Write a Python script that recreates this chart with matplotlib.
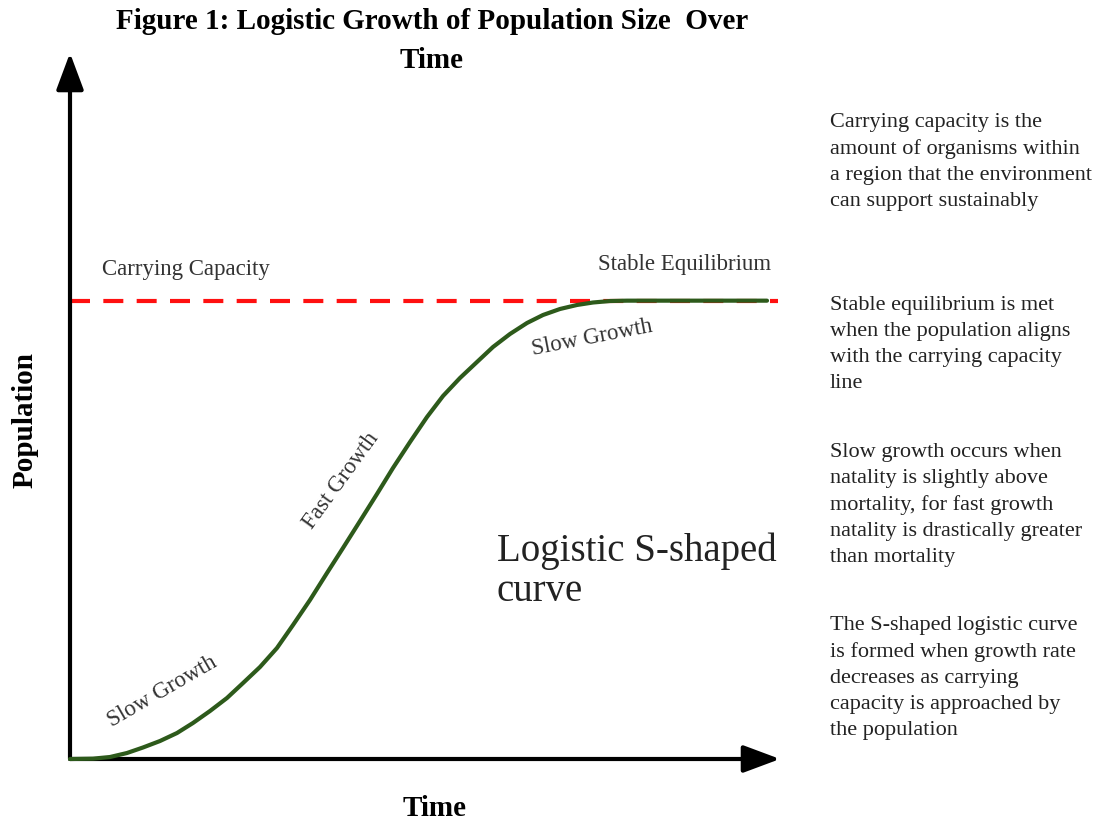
import matplotlib.pyplot as plt

# points (time 0-100, population 0-100)
tiempo = [0, 3.24, 5.63, 8.03, 10.28, 12.68, 15.07, 17.32, 19.72, 22.11, 24.37,
          26.76, 29.15, 31.41, 33.80, 36.20, 38.45, 40.85, 43.24, 45.49, 47.89,
          50.28, 52.54, 54.93, 57.32, 59.58, 61.97, 64.37, 66.62, 69.01, 71.41,
          73.66, 76.06, 78.45, 83.10, 98.17]
poblacion = [0, 0.05, 0.28, 0.85, 1.63, 2.55, 3.68, 5.10, 6.80, 8.64, 10.76,
             13.03, 15.72, 18.98, 22.52, 26.35, 29.89, 33.71, 37.54, 41.22, 44.90,
             48.44, 51.42, 53.97, 56.23, 58.36, 60.20, 61.76, 62.89, 63.74, 64.31,
             64.66, 64.87, 64.92, 64.92, 64.92]
capacidad = 64.92
capacidad_x = [0, 99.7]

notas = [
    "Carrying capacity is the\namount of organisms within\na region that the environment\ncan support sustainably",
    "Stable equilibrium is met\nwhen the population aligns\nwith the carrying capacity\nline",
    "Slow growth occurs when\nnatality is slightly above\nmortality, for fast growth\nnatality is drastically greater\nthan mortality",
    "The S-shaped logistic curve\nis formed when growth rate\ndecreases as carrying\ncapacity is approached by\nthe population",
]
notas_y = [113, 296, 443, 616]  # top of each note, pixels from top

plt.rcParams['font.family'] = ['Liberation Serif', 'DejaVu Serif']

fig = plt.figure(figsize=(11.05, 8.22), dpi=100)
ax = fig.add_axes([70 / 1105, 1 - 759 / 822, 710 / 1105, 706 / 822])
ax.set_xlim(0, 100)
ax.set_ylim(0, 100)
ax.axis('off')

# axes with arrows
flecha = dict(arrowstyle='-|>,head_length=0.75,head_width=0.28', lw=3,
              color='black', mutation_scale=30, shrinkA=0, shrinkB=0)
ax.annotate('', xy=(100, 0), xytext=(0, 0), arrowprops=flecha, annotation_clip=False)
ax.annotate('', xy=(0, 100), xytext=(0, 0), arrowprops=flecha, annotation_clip=False)

ax.plot(capacidad_x, [capacidad, capacidad], color='#ff1010', lw=3,
        dashes=(4.8, 3.2), clip_on=False, zorder=2)
ax.plot(tiempo, poblacion, color='#2d5a1b', lw=3, solid_joinstyle='round',
        solid_capstyle='round', clip_on=False, zorder=3)

gris = '#333333'
tam = 16.5
ax.text(16.3, 69.3, 'Carrying Capacity', fontsize=tam, color=gris, ha='center', va='center')
ax.text(86.6, 70.0, 'Stable Equilibrium', fontsize=tam, color=gris, ha='center', va='center')
ax.text(13.0, 9.6, 'Slow Growth', fontsize=tam, color=gris, ha='center', va='center', rotation=30)
ax.text(38.2, 39.4, 'Fast Growth', fontsize=tam, color=gris, ha='center', va='center', rotation=54)
ax.text(73.6, 59.6, 'Slow Growth', fontsize=tam, color=gris, ha='center', va='center', rotation=11)
ax.text(60.1, 26.6, 'Logistic S-shaped\ncurve', fontsize=28, color='#222222',
        ha='left', va='center', linespacing=1.1)

fig.text(432 / 1105, 1 - 41 / 822, 'Figure 1: Logistic Growth of Population Size  Over\nTime',
         fontsize=21, fontweight='bold', ha='center', va='center', linespacing=1.55)
fig.text(25 / 1105, 1 - 420 / 822, 'Population', fontsize=21, fontweight='bold',
         rotation=90, ha='center', va='center')
fig.text(435 / 1105, 1 - 808 / 822, 'Time', fontsize=21, fontweight='bold',
         ha='center', va='center')

for nota, y in zip(notas, notas_y):
    fig.text(830 / 1105, 1 - y / 822, nota, fontsize=16, color='#222222',
             ha='left', va='top', linespacing=1.5)

fig.savefig('out.png', dpi=100)
